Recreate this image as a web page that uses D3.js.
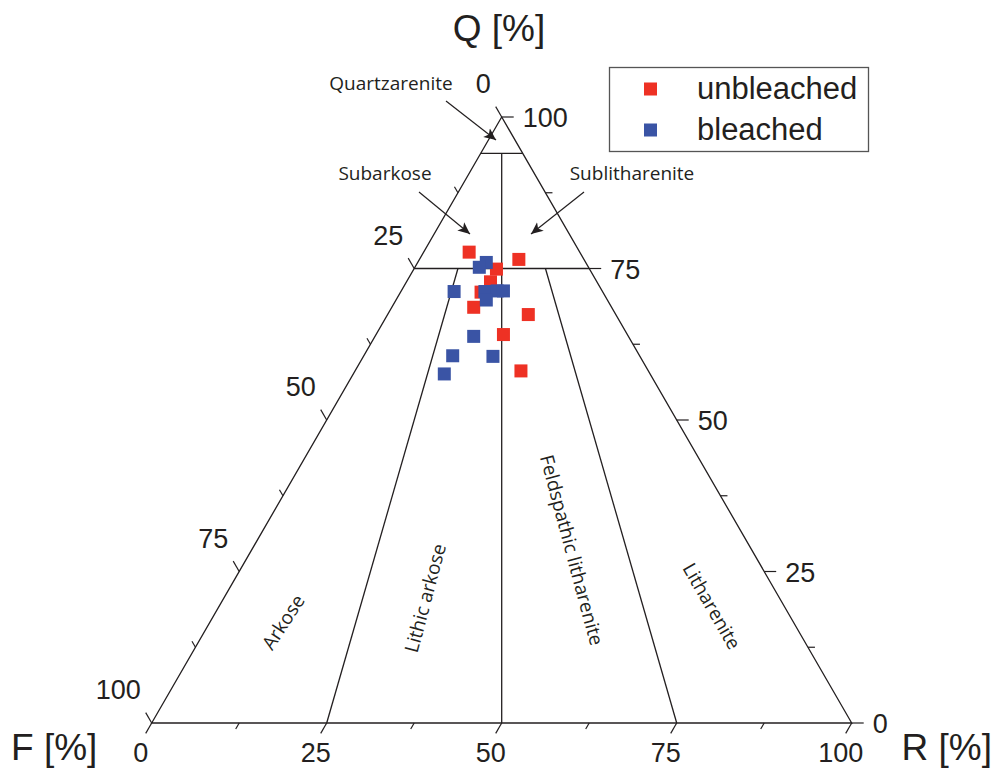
<!DOCTYPE html>
<html>
<head>
<meta charset="utf-8">
<script src="https://cdn.jsdelivr.net/npm/d3@7"></script>
<style>
  html, body { margin: 0; padding: 0; background: #fff; }
  svg { display: block; }
</style>
</head>
<body>
<svg id="chart" width="996" height="769"></svg>
<script>
// Sample compositions in percent: Q (quartz), F (feldspar), R (rock fragments)
const unbleachedQ = [77.7, 76.5, 74.9, 72.8, 68.6, 67.4, 64.1, 58.1, 71.1];
const unbleachedF = [15.8,  9.3, 13.3, 15.2, 19.7, 12.5, 17.7, 18.2, 17.4];
const unbleachedR = [ 6.5, 14.2, 11.8, 12.0, 11.7, 20.1, 18.2, 23.7, 11.5];

const bleachedQ = [76.0, 75.2, 71.2, 71.2, 71.3, 71.3, 69.8, 63.8, 60.6, 60.5, 57.6];
const bleachedF = [14.2, 15.6, 21.2, 16.8, 15.0, 14.1, 17.3, 22.1, 26.7, 21.0, 29.4];
const bleachedR = [ 9.8,  9.2,  7.6, 12.0, 13.7, 14.6, 12.9, 14.1, 12.7, 18.5, 13.0];

const tickValues = [0, 12.5, 25, 37.5, 50, 62.5, 75, 87.5, 100];
const labelValues = [0, 25, 50, 75, 100];
const seriesNames = ["unbleached", "bleached"];
const seriesColors = ["#ee3124", "#3a54a5"];

// Classification boundaries (Folk): Q cut-offs and F:R ratio rays
const quartzareniteQ = 94;
const subQ = 75;
const ratioR = [25, 50, 75];   // R share of (F+R) for the dividing rays

const fieldNames = ["Arkose", "Lithic arkose", "Feldspathic litharenite", "Litharenite"];

const svg = d3.select("#chart");
const ink = "#231f20";
const numFont = "'Liberation Sans', Arial, sans-serif";
const txtFont = "'Open Sans', 'Noto Sans', sans-serif";

// Horizontal position follows R + Q/2, vertical follows Q
const xs = d3.scaleLinear().domain([0, 100]).range([151.7, 851.7]);
const ys = d3.scaleLinear().domain([0, 100]).range([723, 117]);
const pt = (q, r) => [xs(r + q / 2), ys(q)];

const line = d3.line();

// Triangle outline
const corners = [pt(100, 0), pt(0, 0), pt(0, 100)];
svg.append("path")
  .attr("d", line(corners) + "Z")
  .attr("fill", "none").attr("stroke", ink).attr("stroke-width", 1.3);

// Field boundary lines
const bounds = [];
bounds.push([pt(quartzareniteQ, 0), pt(quartzareniteQ, 100 - quartzareniteQ)]);
bounds.push([pt(subQ, 0), pt(subQ, 100 - subQ)]);
ratioR.forEach((s, i) => {
  const qTop = i === 1 ? quartzareniteQ : subQ;
  bounds.push([pt(qTop, (100 - qTop) * s / 100), pt(0, s)]);
});
svg.append("g").selectAll("path").data(bounds).join("path")
  .attr("d", d => line(d))
  .attr("fill", "none").attr("stroke", ink).attr("stroke-width", 1.3);

// Ticks on the three edges
const c60 = Math.cos(Math.PI / 3), s60 = Math.sin(Math.PI / 3);
const tickLen = v => (v % 25 === 0 ? 12 : 7);
const ticks = [];
tickValues.forEach(v => {
  // bottom edge (R), pointing down-left
  const b = pt(0, v);
  ticks.push([b, [b[0] - c60 * tickLen(v), b[1] + s60 * tickLen(v)]]);
  // right edge (Q), pointing right
  const r = pt(v, 100 - v);
  ticks.push([r, [r[0] + tickLen(v), r[1]]]);
  // left edge (F), pointing up-left
  const l = pt(100 - v, 0);
  ticks.push([l, [l[0] - c60 * tickLen(v), l[1] - s60 * tickLen(v)]]);
});
svg.append("g").selectAll("path").data(ticks).join("path")
  .attr("d", d => line(d))
  .attr("stroke", ink).attr("stroke-width", 1.2);

// Tick labels
const lab = svg.append("g").attr("font-family", numFont).attr("font-size", 27).attr("fill", "#231f20");
labelValues.forEach(v => {
  const b = pt(0, v);
  lab.append("text").attr("x", b[0] - 11).attr("y", 762).attr("text-anchor", "middle").text(v);
  const r = pt(v, 100 - v);
  lab.append("text").attr("x", r[0] + 21).attr("y", r[1] + 10).attr("text-anchor", "start").text(v);
  const l = pt(100 - v, 0);
  lab.append("text").attr("x", l[0] - 11).attr("y", l[1] - 24).attr("text-anchor", "end").text(v);
});

// Axis titles
const ttl = svg.append("g").attr("font-family", numFont).attr("font-size", 37).attr("fill", "#231f20");
ttl.append("text").attr("x", 499).attr("y", 41).attr("text-anchor", "middle").text("Q [%]");
ttl.append("text").attr("x", 11).attr("y", 760).attr("text-anchor", "start").text("F [%]");
ttl.append("text").attr("x", 992).attr("y", 760).attr("text-anchor", "end").text("R [%]");

// Arrow marker
svg.append("defs").append("marker")
  .attr("id", "arrow").attr("viewBox", "0 0 10 10")
  .attr("refX", 10).attr("refY", 5)
  .attr("markerWidth", 12).attr("markerHeight", 12)
  .attr("markerUnits", "userSpaceOnUse")
  .attr("orient", "auto")
  .append("path").attr("d", "M0,0.5 L10,5 L0,9.5 L2.5,5 Z").attr("fill", ink);

// Upper field names with pointers
const ann = svg.append("g").attr("font-family", txtFont).attr("font-size", 19).attr("fill", ink);
ann.append("text").attr("x", 391).attr("y", 90).attr("text-anchor", "middle").text("Quartzarenite");
ann.append("text").attr("x", 385).attr("y", 180).attr("text-anchor", "middle").text("Subarkose");
ann.append("text").attr("x", 632).attr("y", 180).attr("text-anchor", "middle").text("Sublitharenite");
const arrows = [
  [[446, 101], [496, 140]],
  [[419, 192], [470, 234]],
  [[584, 192], [531, 234]]
];
svg.append("g").selectAll("path").data(arrows).join("path")
  .attr("d", d => line(d))
  .attr("stroke", ink).attr("stroke-width", 1.2)
  .attr("marker-end", "url(#arrow)");

// Lower field names, rotated along their fields
const fieldPos = [[283, 622, -57], [425, 598, -75], [572, 550, 75], [712, 606, 60]];
svg.append("g").attr("font-family", txtFont).attr("font-size", 19).attr("fill", ink)
  .selectAll("text").data(fieldNames).join("text")
  .attr("text-anchor", "middle").attr("dominant-baseline", "central")
  .attr("transform", (d, i) => `translate(${fieldPos[i][0]},${fieldPos[i][1]}) rotate(${fieldPos[i][2]})`)
  .text(d => d);

// Sample markers
const series = [
  { name: seriesNames[0], color: seriesColors[0], q: unbleachedQ, r: unbleachedR },
  { name: seriesNames[1], color: seriesColors[1], q: bleachedQ, r: bleachedR }
];
const size = 13;
series.forEach(s => {
  svg.append("g").selectAll("rect").data(s.q.map((q, i) => pt(q, s.r[i]))).join("rect")
    .attr("x", d => d[0] - size / 2).attr("y", d => d[1] - size / 2)
    .attr("width", size).attr("height", size)
    .attr("fill", s.color);
});

// Legend
const lg = svg.append("g");
lg.append("rect").attr("x", 609.5).attr("y", 67.5).attr("width", 259).attr("height", 84)
  .attr("fill", "#fff").attr("stroke", "#555").attr("stroke-width", 1.3);
series.forEach((s, i) => {
  const cy = [89, 130][i];
  lg.append("rect").attr("x", 644).attr("y", cy - 6.5).attr("width", 13).attr("height", 13).attr("fill", s.color);
  lg.append("text").attr("x", 697).attr("y", cy + 10)
    .attr("font-family", numFont).attr("font-size", 31).attr("fill", "#231f20").text(s.name);
});
</script>
</body>
</html>
